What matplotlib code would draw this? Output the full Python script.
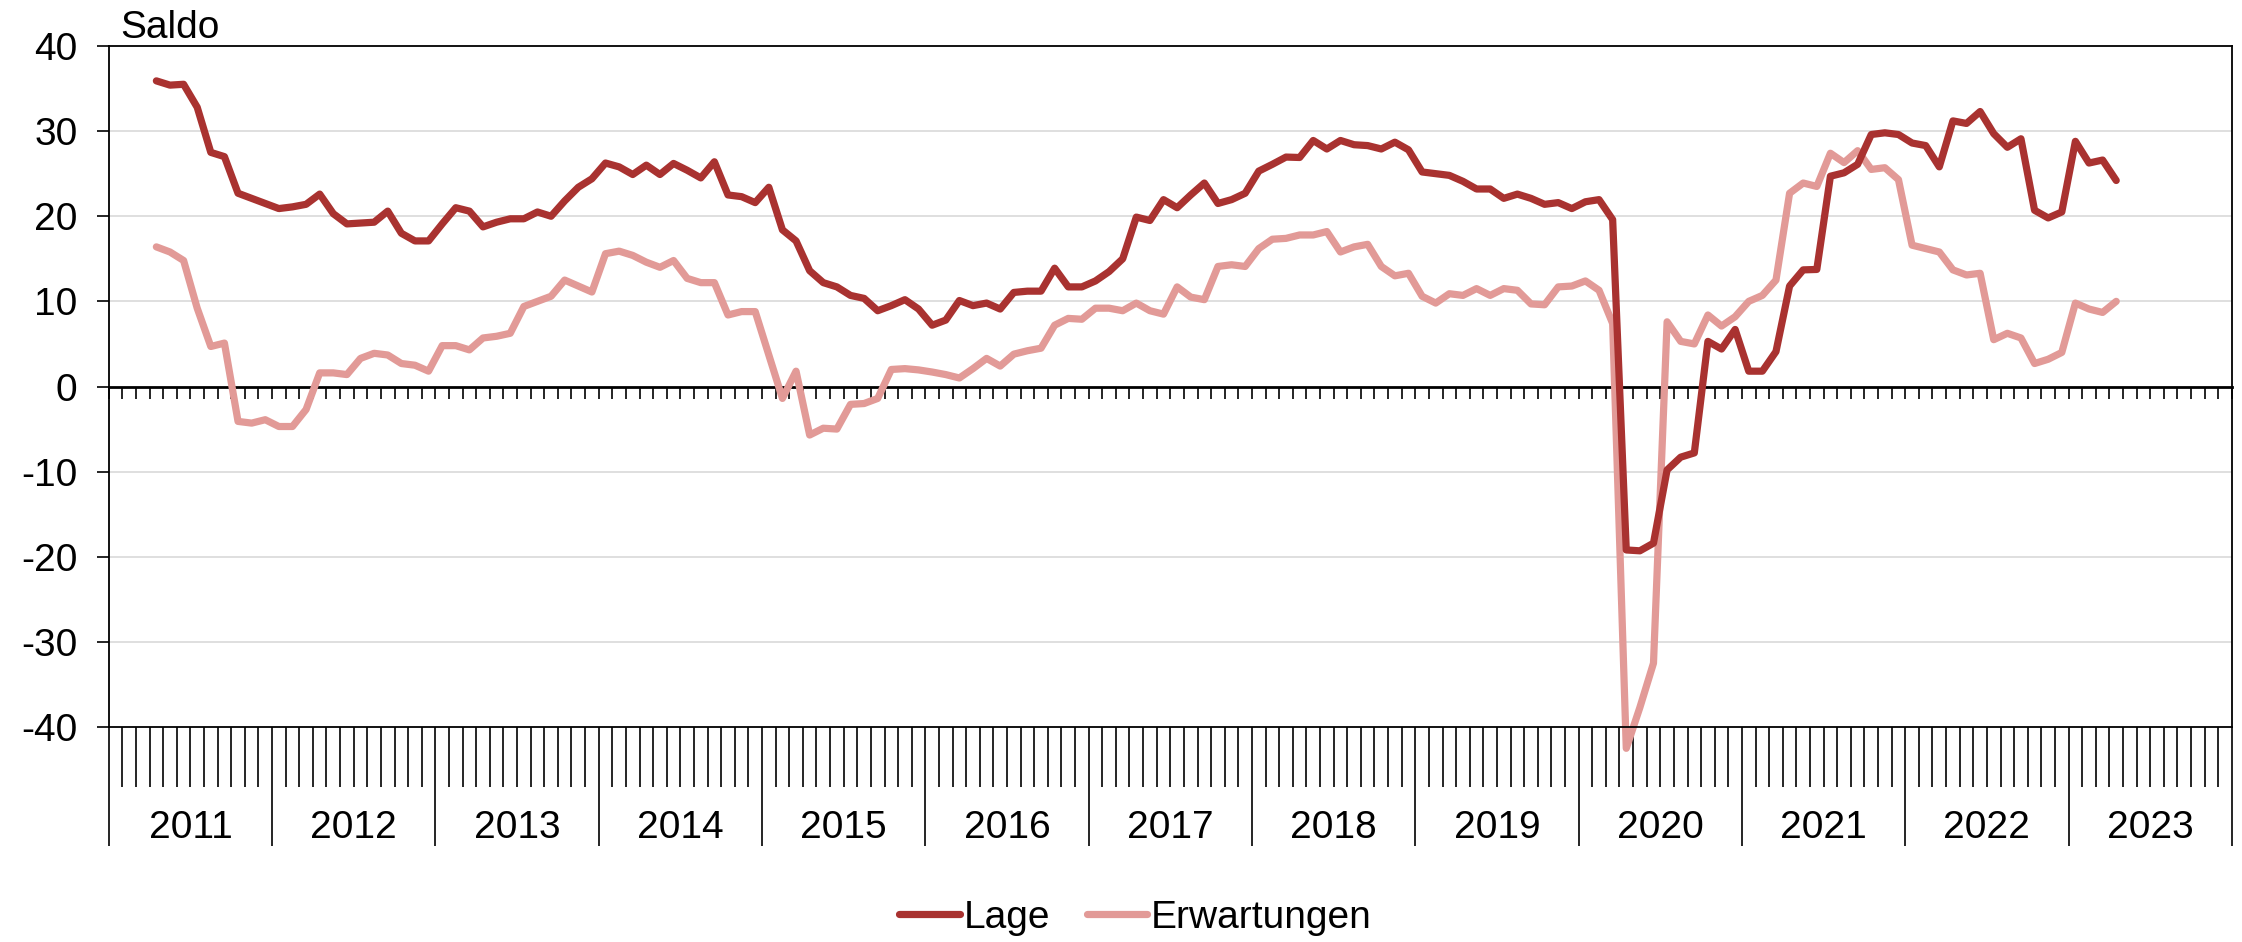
import matplotlib
matplotlib.use("Agg")
import matplotlib.pyplot as plt
import numpy as np
import pandas as pd

plt.rcParams["font.family"] = ["Liberation Sans", "DejaVu Sans"]

# monthly balances, April 2011 to April 2023
lage = [35.9, 35.4, 35.5, 32.8, 27.5, 27.0, 22.7, 22.1, 21.5,
        20.9, 21.1, 21.4, 22.6, 20.3, 19.1, 19.2, 19.3, 20.6, 18.0, 17.1, 17.1,
        19.1, 21.0, 20.6, 18.75, 19.3, 19.7, 19.7, 20.5, 20.0, 21.8, 23.4, 24.4,
        26.25, 25.8, 24.9, 26.0, 24.9, 26.2, 25.4, 24.5, 26.4, 22.5, 22.3, 21.6,
        23.4, 18.4, 17.1, 13.6, 12.2, 11.7, 10.7, 10.35, 8.9, 9.5, 10.2, 9.1,
        7.2, 7.8, 10.1, 9.5, 9.8, 9.1, 11.05, 11.2, 11.2, 13.9, 11.7, 11.7,
        12.4, 13.5, 15.0, 19.9, 19.5, 21.95, 21.0, 22.5, 23.9, 21.5, 21.95, 22.7,
        25.3, 26.1, 26.95, 26.9, 28.9, 27.9, 28.9, 28.4, 28.3, 27.9, 28.7, 27.8,
        25.2, 25.0, 24.8, 24.1, 23.2, 23.2, 22.1, 22.6, 22.1, 21.4, 21.6, 20.9,
        21.7, 21.95, 19.6, -19.2, -19.3, -18.4, -9.8, -8.3, -7.8, 5.3, 4.4, 6.7,
        1.8, 1.8, 4.1, 11.8, 13.7, 13.75, 24.7, 25.1, 26.1, 29.6, 29.8, 29.6,
        28.6, 28.3, 25.8, 31.2, 30.9, 32.3, 29.7, 28.1, 29.1, 20.7, 19.8, 20.5,
        28.8, 26.25, 26.6, 24.2]
erwartungen = [16.4, 15.8, 14.8, 9.2, 4.7, 5.1, -4.1, -4.3, -3.9,
               -4.7, -4.7, -2.7, 1.6, 1.6, 1.4, 3.3, 3.9, 3.7, 2.7, 2.5, 1.8,
               4.8, 4.8, 4.3, 5.7, 5.9, 6.25, 9.4, 10.0, 10.6, 12.5, 11.8, 11.1,
               15.6, 15.9, 15.4, 14.6, 14.0, 14.8, 12.7, 12.2, 12.2, 8.4, 8.8, 8.8,
               3.7, -1.4, 1.8, -5.7, -4.9, -5.0, -2.1, -2.0, -1.4, 2.0, 2.1, 1.95,
               1.7, 1.4, 1.0, 2.1, 3.3, 2.4, 3.8, 4.2, 4.5, 7.2, 8.0, 7.9,
               9.2, 9.2, 8.9, 9.8, 8.9, 8.5, 11.7, 10.5, 10.2, 14.1, 14.3, 14.1,
               16.2, 17.3, 17.4, 17.8, 17.8, 18.2, 15.8, 16.4, 16.7, 14.1, 13.0, 13.3,
               10.6, 9.8, 10.9, 10.7, 11.5, 10.7, 11.5, 11.3, 9.7, 9.6, 11.7, 11.8,
               12.4, 11.3, 7.4, -42.5, -37.7, -32.5, 7.6, 5.3, 5.0, 8.4, 7.1, 8.2,
               10.0, 10.7, 12.5, 22.7, 23.9, 23.5, 27.4, 26.3, 27.7, 25.5, 25.7, 24.3,
               16.6, 16.2, 15.8, 13.7, 13.1, 13.3, 5.5, 6.25, 5.7, 2.7, 3.2, 4.0,
               9.8, 9.1, 8.7, 10.0]
years = list(range(2011, 2024))

dates = pd.date_range("2011-04-01", periods=len(lage), freq="MS")
# month position, centred in each month (0 = start of 2011)
x = (dates.year - years[0]) * 12 + dates.month - 1 + 0.5

fig = plt.figure(figsize=(22.42, 9.42), dpi=100)
ax = fig.add_axes([0.0485, 0.2282, 0.9470, 0.7230])

ax.plot(x, lage, color="#A93230", lw=5.2, solid_capstyle="round",
        solid_joinstyle="round", label="Lage", zorder=3, clip_on=False)
ax.plot(x, erwartungen, color="#E29A97", lw=5.2, solid_capstyle="round",
        solid_joinstyle="round", label="Erwartungen", zorder=2, clip_on=False)

ax.set_xlim(0, len(years) * 12)
ax.set_ylim(-40, 40)

# y axis
ax.set_yticks(range(-40, 41, 10))
ax.set_yticklabels([str(v) for v in range(-40, 41, 10)])
ax.tick_params(axis="y", length=8.6, width=1.2, pad=14, labelsize=28)
for v in range(-30, 40, 10):
    if v != 0:
        ax.axhline(v, color="#d9d9d9", lw=1.2, zorder=1)

for s in ax.spines.values():
    s.set_linewidth(1.3)
    s.set_color("black")

# x axis: months and year separators
ax.set_xticks(np.arange(0, len(years) * 12 + 1, 12))
ax.set_xticks([m for m in range(len(years) * 12) if m % 12], minor=True)
ax.tick_params(axis="x", which="major", length=85.7, width=1.2, labelbottom=False)
ax.tick_params(axis="x", which="minor", length=43.2, width=1.2)

for k, yr in enumerate(years):
    ax.text(k * 12 + 6, -0.148, str(yr), transform=ax.get_xaxis_transform(),
            ha="center", va="center", fontsize=28)

# zero line with small monthly ticks
zero = ax.secondary_xaxis(0.5)
zero.set_xticks(np.arange(0, len(years) * 12 + 1, 1))
zero.tick_params(axis="x", direction="in", length=8.6, width=1.2, labeltop=False,
                 labelbottom=False)
for s in zero.spines.values():
    s.set_linewidth(2.0)

fig.text(0.0535, 0.9597, "Saldo", fontsize=28, ha="left", va="baseline")

fig.legend(loc="center", bbox_to_anchor=(0.5065, 0.0255), ncol=2, frameon=False,
           fontsize=28, handlelength=1.55, handletextpad=0.1, columnspacing=0.95,
           borderpad=0)

fig.savefig("out.png", dpi=100)
